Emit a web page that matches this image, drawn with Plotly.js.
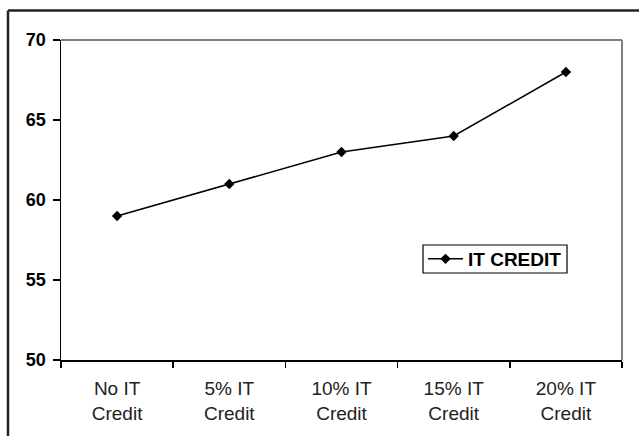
<!DOCTYPE html>
<html>
<head>
<meta charset="utf-8">
<script src="https://cdn.plot.ly/plotly-3.0.1.min.js"></script>
<style>html,body{margin:0;padding:0;background:#fff;}#chart{width:639px;height:436px;}</style>
</head>
<body>
<div id="chart"></div>
<script>
const categories = ["No IT<br>Credit", "5% IT<br>Credit", "10% IT<br>Credit", "15% IT<br>Credit", "20% IT<br>Credit"];
const itCredit = [59, 61, 63, 64, 68];
const seriesName = "IT CREDIT";
const yTicks = [50, 55, 60, 65, 70];

const trace = {
  x: categories,
  y: itCredit,
  name: seriesName,
  type: 'scatter',
  mode: 'lines+markers',
  line: {color: '#000', width: 1.5},
  marker: {symbol: 'diamond', size: 8, color: '#000'},
  showlegend: true
};

const layout = {
  width: 639, height: 436,
  margin: {l: 61, r: 17, t: 40, b: 76},
  paper_bgcolor: '#fff', plot_bgcolor: '#fff',
  font: {family: 'Liberation Sans, Arial, sans-serif', color: '#000'},
  showlegend: true,
  legend: {
    x: 0.6453, y: 0.3156, xanchor: 'left', yanchor: 'middle',
    borderwidth: 0, bgcolor: 'rgba(0,0,0,0)',
    font: {size: 19, color: '#000', family: 'Liberation Sans, Arial, sans-serif', weight: 'bold'},
    itemwidth: 35, tracegroupgap: 0
  },
  xaxis: {
    type: 'category',
    tickson: 'boundaries',
    ticks: 'outside', ticklen: 6, tickcolor: '#000', tickwidth: 1.5,
    showline: true, linecolor: '#000', linewidth: 1.5,
    showgrid: false, zeroline: false,
    tickfont: {size: 19, color: '#222'},
    ticklabelstandoff: 11,
    range: [-0.5, 4.5],
    fixedrange: true
  },
  yaxis: {
    range: [50, 70],
    tickvals: yTicks,
    ticks: 'outside', ticklen: 7, tickcolor: '#000', tickwidth: 1.5,
    showline: true, linecolor: '#000', linewidth: 1.5,
    showgrid: false, zeroline: false,
    tickfont: {size: 18, color: '#000', weight: 'bold'},
    ticklabelstandoff: 3,
    fixedrange: true
  },
  shapes: [
    {type: 'line', xref: 'paper', yref: 'paper', x0: 0, x1: 1, y0: 1, y1: 1, line: {color: '#808080', width: 2}},
    {type: 'line', xref: 'paper', yref: 'paper', x0: 1, x1: 1, y0: 0, y1: 1, line: {color: '#808080', width: 2}},
    {type: 'line', xref: 'paper', yref: 'paper', x0: -0.0945, x1: -0.0945, y0: -0.3, y1: 1.0922, line: {color: '#222', width: 2.5}},
    {type: 'line', xref: 'paper', yref: 'paper', x0: -0.0945, x1: 1.1, y0: 1.0922, y1: 1.0922, line: {color: '#222', width: 2.5}},
    {type: 'rect', xref: 'paper', yref: 'paper', x0: 0.6453, x1: 0.902, y0: 0.2719, y1: 0.3594, line: {color: '#000', width: 1.2}, fillcolor: '#fff', layer: 'below'}
  ]
};

Plotly.newPlot('chart', [trace], layout, {displayModeBar: false, staticPlot: true});
</script>
</body>
</html>
